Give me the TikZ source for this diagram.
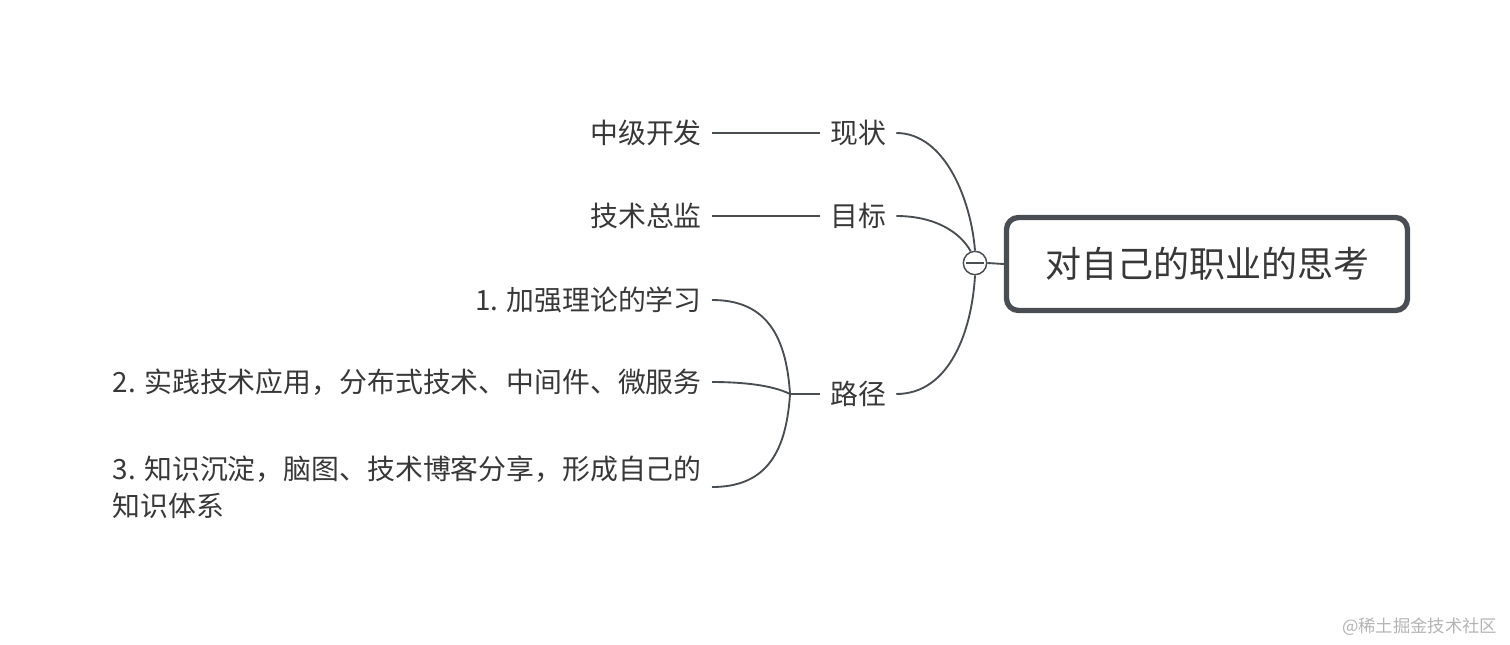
\documentclass[tikz,border=0pt]{standalone}
\usepackage{fontspec}
\setmainfont{Noto Sans CJK SC}
\usepackage{tikz}
\usetikzlibrary{positioning}

\definecolor{linegray}{HTML}{4A4D52}
\definecolor{textgray}{HTML}{383838}
\definecolor{markgray}{HTML}{B4B4B4}

\tikzset{
    topic/.style={inner xsep=7.5pt, inner ysep=2pt, text=textgray,
        font=\fontsize{20.9}{27.75}\selectfont},
    rootbox/.style={draw=linegray, line width=4pt, rounded corners=9pt,
        minimum width=300.75pt, minimum height=69.75pt, fill=white, text=textgray,
        font=\fontsize{27}{30}\selectfont},
    link/.style={draw=linegray, line width=1.4pt},
}

\begin{document}
\begin{tikzpicture}[x=0.75pt, y=-0.75pt]
        \useasboundingbox (0,0) rectangle (1510,644);

        \node[rootbox] (root) at (1207,264) {对自己的职业的思考};
        \node[circle, draw=linegray, line width=1.1pt, fill=white, minimum size=17.5pt, inner sep=0pt] (hub) at (975,263) {};

        \node[topic, anchor=west] (xz) at (820,133) {现状};
        \node[topic, anchor=west] (mb) at (820,216) {目标};
        \node[topic, anchor=west] (lj) at (820,394) {路径};

        \node[topic, anchor=east] (zj) at (712,133) {中级开发};
        \node[topic, anchor=east] (zs) at (712,216) {技术总监};
        \node[topic, anchor=east] (p1) at (712,300) {1. 加强理论的学习};
        \node[topic, anchor=east] (p2) at (712,382) {2. 实践技术应用，分布式技术、中间件、微服务};
        \node[topic, anchor=east, align=left] (p3) at (712,487) {3. 知识沉淀，脑图、技术博客分享，形成自己的\\知识体系};
        \coordinate (ljfork) at (790,394);

        \draw[link] (hub.east) -- (root.west);
        \draw[link] (xz.east) .. controls (945,133) and (971,200) .. (hub.north);
        \draw[link] (mb.east) .. controls (935,216) and (960,232) .. (hub.110);
        \draw[link] (lj.east) .. controls (950,394) and (972,330) .. (hub.south);

        \draw[link] (zj.east) -- (xz.west);
        \draw[link] (zs.east) -- (mb.west);
        \draw[link] (ljfork) -- (lj.west);
        \draw[link] (ljfork) .. controls (786,330) and (762,300) .. (p1.east);
        \draw[link] (ljfork) .. controls (772,385) and (742,382) .. (p2.east);
        \draw[link] (ljfork) .. controls (786,458) and (762,487) .. (p3.east);

        % collapse mark
        \draw[linegray, line width=1.1pt] ([xshift=-6.5pt]hub.center) -- ([xshift=6.5pt]hub.center);

        \node[text=markgray, anchor=east, font=\fontsize{13}{15}\selectfont] (mark) at (1502,627) {@稀土掘金技术社区};
\end{tikzpicture}
\end{document}
